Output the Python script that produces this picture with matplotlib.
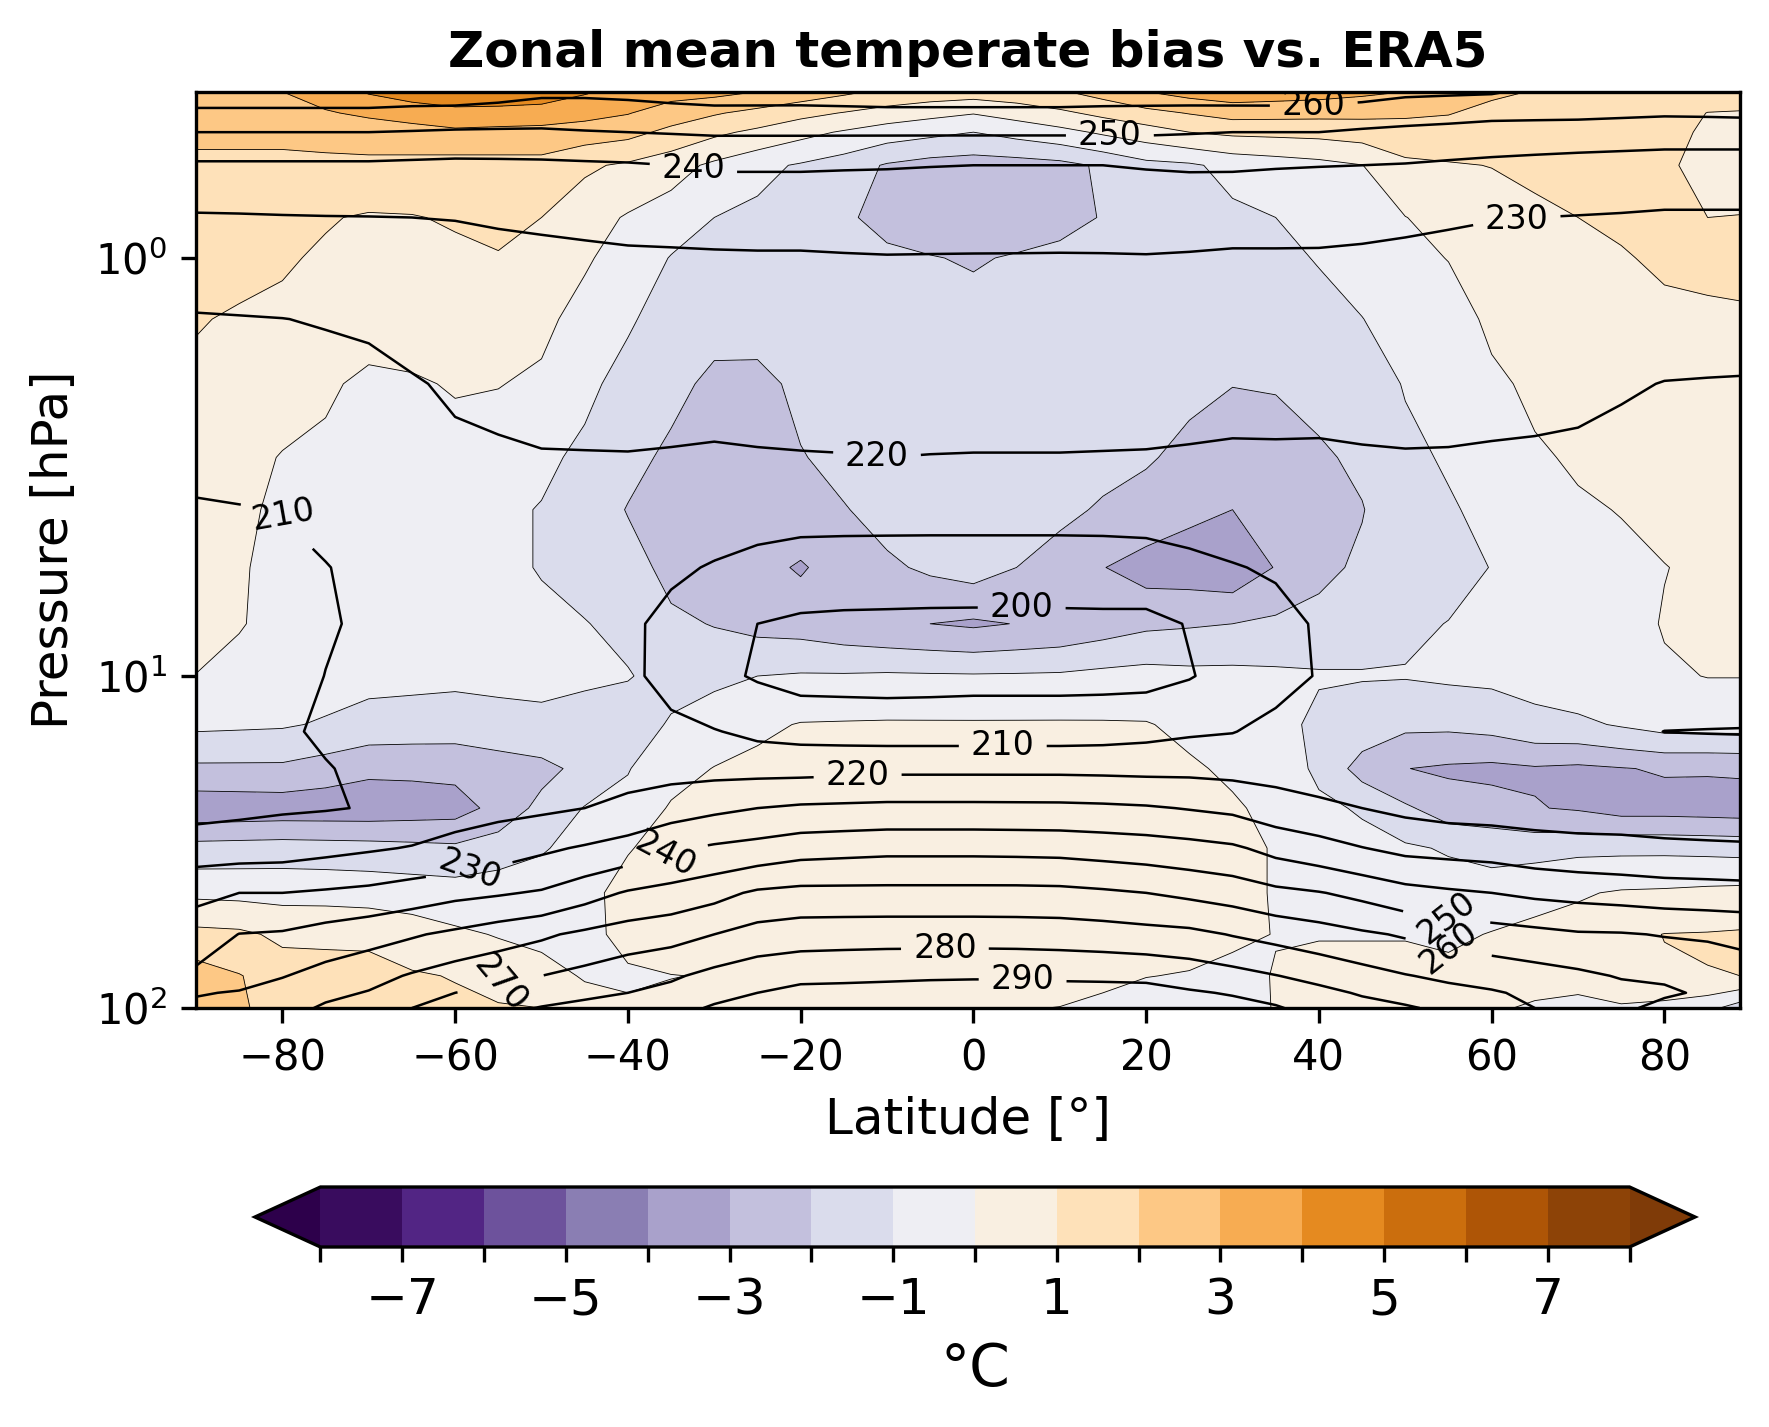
import numpy as np
import matplotlib
matplotlib.use('Agg')
import matplotlib.pyplot as plt

lats = [-90, -85, -80, -75, -70, -65, -60, -55, -50, -45, -40, -35, -30, -25, -20, -15, -10, -5, 0,
        5, 10, 15, 20, 25, 30, 35, 40, 45, 50, 55, 60, 65, 70, 75, 80, 85, 88.75]
plev_bias = [0.4, 0.45, 0.5, 0.6, 0.8, 1, 1.4, 2, 3, 4, 5.5, 7.5, 10, 14, 19, 25, 33, 45, 60, 80, 100]
plev_temp = [0.4, 0.45, 0.5, 0.6, 0.8, 1, 1.4, 2, 3, 4, 5.5, 7.5, 10, 14.7, 19, 25, 33, 45, 60, 80, 90, 100]

# one list per latitude, top of the atmosphere first
bias_by_lat = [
    [2.9, 2.5, 2.2, 1.8, 1.5, 1.4, 1.06, 0.8, 0.6, 0.5, 0.4, 0.35, -0.02, -0.8, -2.2, -3.7, -1.6, -0.2, 1.3, 2.5, 2.8],
    [2.95, 2.55, 2.2, 1.8, 1.45, 1.25, 0.9, 0.6, 0.3, 0.2, 0.1, 0.05, -0.25, -0.85, -2.2, -3.65, -1.55, -0.25, 1.2, 2.05, 2.1],
    [3.0, 2.6, 2.2, 1.8, 1.4, 1.1, 0.8, 0.4, -0.05, -0.2, -0.3, -0.25, -0.5, -0.9, -2.2, -3.6, -1.5, -0.3, 0.8, 1.5, 1.7],
    [3.5, 2.9, 2.3, 1.8, 1.07, 0.88, 0.5, 0.07, -0.1, -0.3, -0.38, -0.4, -0.6, -1.1, -2.5, -3.6, -1.55, -0.3, 0.75, 1.5, 1.65],
    [4.1, 3.2, 2.4, 1.8, 0.9, 0.7, 0.2, -0.1, -0.3, -0.4, -0.45, -0.5, -0.7, -1.4, -2.8, -3.6, -1.6, -0.35, 0.7, 1.5, 1.6],
    [4.5, 3.45, 2.6, 1.7, 0.95, 0.78, 0.28, -0.07, -0.28, -0.4, -0.45, -0.5, -0.75, -1.45, -2.8, -3.5, -1.7, -0.42, 0.45, 1.1, 1.3],
    [4.7, 3.7, 2.8, 1.6, 1.1, 0.8, 0.4, 0.05, -0.25, -0.4, -0.45, -0.5, -0.8, -1.5, -2.75, -3.4, -1.8, -0.5, 0.15, 0.95, 1.2],
    [4.6, 3.7, 2.7, 1.65, 1.2, 0.95, 0.35, 0.03, -0.5, -0.8, -0.8, -0.6, -0.8, -1.3, -2.55, -2.7, -1.45, -0.45, -0.05, 0.55, 1.1],
    [4.4, 3.7, 2.6, 1.7, 1.0, 0.8, 0.2, -0.15, -0.8, -1.05, -1.05, -0.8, -0.8, -1.2, -2.3, -1.7, -1.1, -0.4, -0.2, 0.3, 1.0],
    [4.1, 3.35, 2.5, 1.15, 0.45, 0.1, -0.3, -0.8, -1.2, -1.4, -1.25, -0.97, -0.85, -1.4, -1.7, -0.95, -0.6, -0.25, -0.2, -0.07, 0.35],
    [3.7, 3.05, 2.3, 0.85, -0.1, -0.35, -0.9, -1.3, -1.7, -2.05, -1.6, -1.2, -0.95, -1.5, -1.05, -0.7, -0.05, 0.3, 0.2, -0.1, 0.1],
    [3.4, 2.5, 1.75, 0.4, -0.5, -1.05, -1.35, -1.75, -2.2, -2.45, -2.3, -1.8, -1.3, -0.9, -0.35, 0.1, 0.3, 0.35, 0.25, -0.01, 0.1],
    [3.3, 2.1, 1.2, -0.2, -1.0, -1.2, -1.7, -2.2, -2.6, -2.6, -2.5, -2.05, -1.2, -0.5, 0.03, 0.3, 0.4, 0.4, 0.3, 0.02, 0.1],
    [3.0, 1.7, 0.8, -0.75, -1.2, -1.35, -1.65, -2.25, -2.9, -2.8, -2.7, -2.3, -1.0, -0.2, 0.25, 0.4, 0.45, 0.45, 0.4, 0.02, 0.2],
    [2.6, 1.3, 0.3, -1.1, -1.4, -1.5, -1.6, -1.8, -2.05, -2.4, -3.1, -2.4, -0.9, 0.05, 0.4, 0.5, 0.5, 0.5, 0.5, 0.4, 0.3],
    [2.2, 0.95, -0.1, -1.5, -1.85, -1.7, -1.6, -1.65, -1.75, -2.05, -2.55, -2.65, -0.9, 0.08, 0.42, 0.5, 0.5, 0.5, 0.5, 0.42, 0.32],
    [1.8, 0.6, -0.5, -2.1, -2.3, -1.8, -1.6, -1.6, -1.6, -1.7, -2.15, -2.85, -0.85, 0.1, 0.45, 0.5, 0.5, 0.5, 0.5, 0.45, 0.35],
    [1.6, 0.3, -0.75, -2.4, -2.55, -1.95, -1.6, -1.55, -1.55, -1.6, -1.85, -3.0, -0.88, 0.1, 0.48, 0.5, 0.5, 0.5, 0.5, 0.42, 0.25],
    [1.5, 0.05, -1.0, -2.5, -2.8, -2.1, -1.6, -1.5, -1.5, -1.5, -1.6, -3.15, -0.9, 0.1, 0.5, 0.5, 0.5, 0.5, 0.5, 0.4, 0.1],
    [1.65, 0.4, -0.65, -2.45, -2.6, -1.9, -1.55, -1.5, -1.55, -1.65, -2.0, -2.97, -0.88, 0.1, 0.48, 0.5, 0.5, 0.5, 0.5, 0.4, 0.05],
    [1.9, 0.8, -0.3, -2.3, -2.3, -1.75, -1.5, -1.5, -1.6, -1.8, -2.4, -2.8, -0.85, 0.1, 0.45, 0.5, 0.5, 0.5, 0.5, 0.4, -0.02],
    [2.4, 1.25, 0.15, -1.85, -1.95, -1.6, -1.5, -1.55, -1.75, -2.1, -2.97, -2.5, -0.7, 0.08, 0.42, 0.5, 0.5, 0.5, 0.45, 0.2, -0.2],
    [3.0, 1.7, 0.55, -1.3, -1.5, -1.5, -1.5, -1.6, -1.9, -2.4, -3.4, -2.2, -0.6, 0.05, 0.4, 0.5, 0.5, 0.5, 0.4, 0.02, -0.4],
    [3.4, 2.05, 1.0, -1.15, -1.3, -1.45, -1.55, -1.8, -2.25, -2.8, -3.5, -2.1, -0.7, -0.2, 0.12, 0.35, 0.45, 0.45, 0.3, -0.05, -0.5],
    [3.6, 2.4, 1.2, -0.7, -1.2, -1.4, -1.6, -1.98, -2.5, -3.0, -3.7, -2.0, -0.7, -0.4, -0.15, 0.12, 0.4, 0.4, 0.2, -0.3, -0.4],
    [3.5, 2.35, 1.25, -0.5, -1.0, -1.2, -1.5, -1.95, -2.35, -2.85, -2.95, -1.8, -0.8, -0.55, -0.4, -0.25, -0.1, -0.1, -0.03, 0.05, 0.05],
    [3.4, 2.3, 1.3, -0.3, -0.7, -0.95, -1.3, -1.7, -2.15, -2.4, -2.3, -1.6, -0.9, -1.3, -1.2, -0.8, -0.5, -0.3, -0.05, 0.3, 0.4],
    [3.2, 2.25, 1.45, -0.02, -0.4, -0.6, -1.02, -1.4, -1.8, -2.05, -1.8, -1.3, -0.95, -1.45, -2.4, -1.1, -0.7, -0.3, -0.05, 0.3, 0.45],
    [3.0, 2.15, 1.6, 0.8, -0.02, -0.2, -0.55, -0.95, -1.2, -1.25, -1.25, -1.15, -0.95, -1.8, -2.98, -1.85, -0.85, -0.4, -0.05, 0.3, 0.45],
    [2.6, 2.05, 1.55, 0.93, 0.35, 0.02, -0.35, -0.7, -0.9, -1.1, -1.25, -0.98, -0.85, -1.8, -3.15, -2.5, -1.1, -0.5, -0.2, 0.3, 0.3],
    [2.2, 1.7, 1.4, 1.02, 0.6, 0.45, 0.15, -0.15, -0.5, -0.75, -0.98, -0.8, -0.8, -1.65, -3.25, -2.6, -1.3, -0.55, 0.05, 0.3, 0.1],
    [1.95, 1.75, 1.5, 1.2, 0.8, 0.65, 0.4, 0.15, -0.1, -0.4, -0.6, -0.6, -0.65, -1.3, -3.1, -2.95, -1.3, -0.3, 0.25, 0.3, -0.1],
    [1.8, 1.7, 1.6, 1.4, 1.0, 0.85, 0.65, 0.4, 0.1, -0.1, -0.2, -0.3, -0.4, -1.2, -3.2, -3.1, -1.2, -0.1, 0.4, 0.25, -0.2],
    [1.7, 1.65, 1.55, 1.4, 1.1, 0.95, 0.7, 0.5, 0.2, 0.03, -0.2, -0.3, -0.4, -0.9, -3.05, -3.4, -1.2, 0.1, 0.75, 0.6, -0.1],
    [1.6, 1.45, 1.3, 1.1, 1.15, 1.1, 0.85, 0.6, 0.4, 0.2, -0.02, 0.05, -0.1, -0.6, -2.9, -3.4, -1.2, 0.15, 1.02, 0.9, -0.3],
    [1.5, 0.98, 0.85, 0.8, 1.0, 1.2, 0.85, 0.65, 0.45, 0.3, 0.15, 0.15, 0.02, -0.6, -2.9, -3.45, -1.25, 0.25, 1.05, 0.98, -0.7],
    [1.4, 0.95, 0.8, 0.7, 1.02, 1.3, 0.85, 0.7, 0.5, 0.35, 0.25, 0.2, 0.02, -0.6, -2.85, -3.5, -1.3, 0.3, 1.1, 1.0, -1.5],
]

temp_by_lat = [
    [266, 258, 250, 238.5, 229, 225, 219.3, 215.9, 212, 209.3, 207, 205.5, 204, 203, 203.5, 207, 215, 228, 234.5, 242, 249, 253],
    [266, 258, 250, 238.5, 229.2, 225.2, 219.6, 216, 212.3, 209.7, 207.8, 206.5, 205.8, 206, 205.7, 208, 215.5, 230, 240.2, 244, 251, 254.5],
    [266, 258, 250, 238.5, 229.5, 225.5, 219.9, 216, 212.7, 210.1, 208.7, 207.5, 207.5, 209, 208, 209, 216, 230, 241, 249.5, 254, 256],
    [266, 258, 250, 238.5, 229.7, 226, 220.5, 217, 213.8, 211.5, 209.8, 209.4, 210.1, 211, 209.6, 209.5, 217.5, 231.2, 244, 253.5, 257.5, 261.5],
    [266, 258, 250, 238.5, 229.8, 226.3, 221, 218, 215, 213, 211.4, 211, 213, 212.5, 211.5, 210.4, 219, 232.5, 246.5, 256.5, 260.6, 266],
    [266, 257, 249.5, 238, 230, 227, 222.5, 219.4, 216.7, 215, 213.7, 213.2, 213.7, 213.7, 213.5, 213.7, 220.5, 235, 249, 261, 266, 270],
    [267, 256, 249, 237.5, 230.2, 227.5, 224, 221, 218.5, 217, 215.5, 215, 214.5, 214.5, 215.5, 217, 222.3, 237.5, 252, 265, 270, 274],
    [264.5, 255.5, 248.8, 237.7, 230.7, 228, 225, 222, 218.9, 217.5, 216.3, 215.8, 215.3, 215.3, 215.8, 217.7, 225, 239, 255.5, 267.5, 273, 277.5],
    [262, 255, 248.7, 238, 231, 228.5, 226, 223, 219.5, 218, 217, 215, 215, 215, 216, 218.5, 228.3, 241, 258.5, 270, 275.6, 280.5],
    [262, 255, 249.5, 238.5, 231.5, 228.7, 226, 223, 219.6, 217.5, 216, 213.5, 213.7, 215, 216.2, 220, 231, 246, 262, 273, 278, 282.5],
    [263, 255, 250, 239, 232, 229, 226, 222.8, 219.7, 217, 215, 211.8, 212, 214, 216.5, 222.5, 234, 251, 265, 276, 280, 284],
    [265, 255.5, 250.5, 240, 232, 229.2, 226.2, 223, 219.4, 216.2, 211.5, 207.3, 206.8, 212.5, 216.8, 225.5, 238.7, 253.7, 266.7, 278.5, 283, 287],
    [267, 256, 251, 241, 232, 229.4, 226.4, 223, 219, 214.5, 209.3, 203, 202, 210.5, 217, 228, 241.5, 257, 270, 283, 287.3, 291],
    [266, 256.5, 251, 241, 232, 229.5, 226.7, 223.5, 219.3, 214, 207, 200, 199.2, 207.8, 217, 230, 243.5, 261.5, 274, 286, 290, 294],
    [265, 257, 251, 241, 232, 229.5, 227, 224, 219.5, 213.5, 205.5, 198.5, 197, 206.6, 217, 231.5, 246, 263, 275.5, 287.5, 292.7, 296],
    [265, 257.5, 251, 240.7, 232.5, 229.6, 226.8, 223.8, 219.7, 213.3, 205.4, 198, 197, 206, 217.5, 232, 246.8, 263, 275.8, 288, 292.8, 296.5],
    [265, 258, 251, 240.5, 233, 229.7, 226.7, 223.7, 220, 213.2, 205.4, 197.8, 197, 205.5, 218, 232.5, 247.5, 263, 276, 288.5, 293, 297],
    [265, 258, 251, 240.2, 233.3, 229.6, 226.6, 223.6, 219.8, 213.2, 205.3, 197.6, 197.2, 205.5, 218, 232.5, 247.5, 263, 276, 288.8, 293.7, 297.6],
    [265, 258, 251, 240, 233.6, 229.5, 226.5, 223.5, 219.7, 213.2, 205.3, 197.5, 197.5, 205.5, 218, 232.5, 247.5, 263, 276, 289, 294, 298],
    [265, 258, 251, 240, 233.4, 229.5, 226.5, 223.5, 219.7, 213.2, 205.3, 197.5, 197.5, 205.5, 218, 232.4, 247.3, 263, 275.8, 289, 294, 297.7],
    [265, 258, 251, 240, 233, 229.5, 226.5, 223.5, 219.7, 213.2, 205.3, 197.6, 197.5, 205.5, 218, 232.3, 247, 262.7, 275.5, 288.5, 293.5, 297],
    [265, 257.5, 251, 240, 233.3, 229.5, 226.5, 223.4, 219.6, 213.2, 205.5, 197.7, 197.5, 206, 217.8, 231.8, 246, 261.5, 274.7, 288.3, 293.3, 297],
    [265.5, 257, 251, 240.5, 233.5, 229.6, 226.5, 223.3, 219.5, 213.3, 206, 197.5, 197.5, 207.2, 217.5, 231, 245, 260, 273.5, 288, 293, 297],
    [266, 256.5, 250.5, 241, 232.5, 229.5, 226.6, 223, 219.2, 214, 207.7, 200.5, 199.5, 208.8, 217.6, 229.5, 243.5, 258, 272.5, 286, 291, 295],
    [267, 256, 250, 241, 232, 229.3, 226.7, 222.8, 218.8, 214.5, 209.5, 203.5, 203, 209.7, 217, 228, 241.5, 256, 269.5, 283.5, 289.3, 293],
    [268, 255.5, 250, 240.5, 232.3, 229.2, 226.3, 222.5, 219, 215.2, 211, 207, 207.2, 212.5, 216.5, 224.5, 237, 252.5, 267, 280.3, 286, 291],
    [268, 255, 250, 240.2, 232.7, 229, 226, 222.3, 219, 216, 213, 211, 210.5, 212, 215.5, 222, 234, 250.5, 264.5, 277, 282.7, 286],
    [265, 254.5, 249, 240, 232, 228.8, 225.8, 222.7, 219.3, 217, 215, 213.5, 213, 213.7, 215.5, 220, 230.3, 247.5, 261.5, 273.8, 279, 283.5],
    [262, 254, 248, 239.5, 231.3, 228.5, 225.5, 223, 219.5, 218, 217, 216.5, 216, 215.5, 215.5, 218, 227.5, 243.5, 259, 270.5, 276.5, 281],
    [261.5, 253, 247.5, 238.5, 230.7, 228.2, 225.3, 222.5, 219.5, 218, 217, 216.2, 215.7, 215, 214.5, 216.5, 226.7, 241.5, 256.5, 268, 273, 278],
    [261, 252, 247, 237.5, 230.2, 228, 225, 222, 219.3, 218, 217, 216, 215.5, 214.5, 214, 216, 226, 240, 254.5, 266, 271, 275],
    [258, 252, 246.5, 236.7, 230, 228, 225, 222, 219, 217.5, 216.5, 215.5, 214.7, 213.5, 213, 215.5, 224.2, 238.1, 252.8, 264, 268, 270],
    [256, 252, 246, 236, 229.7, 227.8, 225, 221.8, 218.5, 217, 216, 215, 214, 212.5, 212.5, 215.5, 223, 237, 251, 262, 264.5, 266],
    [255.5, 251.5, 245.5, 235.5, 229.4, 227.4, 224.2, 220.8, 217.5, 216, 215.2, 214.5, 213.5, 211.2, 212.7, 215.7, 222.5, 236, 250.7, 259.3, 263, 262],
    [255, 251, 245, 235, 229, 227, 223.5, 219.8, 216.5, 215, 214.5, 214, 213, 209.95, 213, 216, 221.5, 235, 249.5, 258.5, 261.5, 257],
    [255.5, 251.2, 245, 235, 229, 227, 223.2, 219.6, 216.2, 214.7, 214.2, 213.7, 212.7, 209.85, 212.7, 215.7, 221.2, 234.5, 248.7, 257, 258.5, 254.5],
    [256, 251.5, 245, 235, 229, 227, 223, 219.5, 216, 214.5, 214, 213.5, 212.5, 209.8, 212.5, 215.5, 221, 234, 248, 254, 253, 252],
]

bias_levels = list(range(-8, 9))
temp_levels = list(range(200, 300, 10))
label_spots = [(39.4, 0.42), (15.8, 0.507), (-32.4, 0.608), (62.9, 0.81), (-11.1, 2.9), (-79.8, 4.1),
               (5.6, 6.59), (3.4, 16.4), (-13.4, 20.1), (-58.4, 37.8), (-35.6, 35.3), (54.8, 53),
               (55, 66), (-54.7, 85.5), (-3.3, 66), (5.7, 82)]
label_angles = [0, 0, 0, 0, 0, 10, 0, 0, 0, -20, -28, 38, 38, -50, 0, 0]


# the reference axis is not a plain log one: decades above 10 hPa are stretched
def press_forward(p):
    lp = np.log10(np.maximum(p, 1e-6))
    return np.where(lp <= 1, lp * 418 / 332, 418 / 332 + (lp - 1))


def press_inverse(y):
    return 10 ** np.where(y <= 418 / 332, y * 332 / 418, y - 418 / 332 + 1)


fig = plt.figure(figsize=(1769 / 300, 1427 / 300), dpi=300)
ax = fig.add_axes([196 / 1769, 1 - 1008 / 1427, 1544 / 1769, 916 / 1427])

bias = np.array(bias_by_lat).T
temp = np.array(temp_by_lat).T

cf = ax.contourf(lats, plev_bias, bias, levels=bias_levels, cmap='PuOr_r', extend='both')
ax.contour(lats, plev_bias, bias, levels=bias_levels, colors='k', linewidths=0.2, linestyles='solid')
cs = ax.contour(lats, plev_temp, temp, levels=temp_levels, colors='k', linewidths=0.6)

ax.set_yscale('function', functions=(press_forward, press_inverse))
ax.set_xlim(-90, 88.75)
ax.set_ylim(100, 10 ** (-166 / 418))
ax.clabel(cs, fmt='%d', fontsize=8, manual=label_spots, inline_spacing=12)
for txt, ang in zip(cs.labelTexts, label_angles):
    txt.set_rotation(ang)

ax.set_yticks([1, 10, 100])
ax.set_yticklabels([r'$\mathdefault{10^{0}}$', r'$\mathdefault{10^{1}}$', r'$\mathdefault{10^{2}}$'])
ax.minorticks_off()
ax.set_xticks(range(-80, 81, 20))
ax.tick_params(labelsize=10)
ax.set_xlabel('Latitude [°]', fontsize=12)
ax.set_ylabel('Pressure [hPa]', fontsize=12)
ax.set_title('Zonal mean temperate bias vs. ERA5', fontsize=12, fontweight='bold')

# tip to tip, the extend triangles are taken out of this box
cax = fig.add_axes([255 / 1769, 1 - 1247 / 1427, 1440 / 1769, 60 / 1427])
cbar = fig.colorbar(cf, cax=cax, orientation='horizontal', ticks=bias_levels)
cbar.set_ticklabels(['' if v % 2 == 0 else str(v).replace('-', '\u2212') for v in bias_levels])
cbar.ax.tick_params(labelsize=12)
cbar.set_label('°C', fontsize=14)

fig.savefig('out.png', dpi=300)
